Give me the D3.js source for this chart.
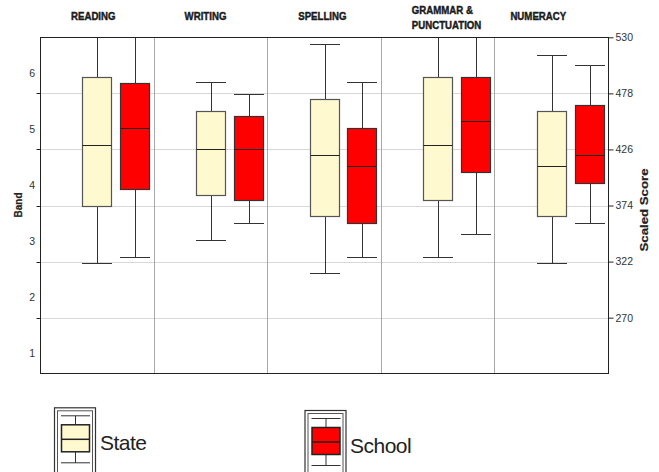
<!DOCTYPE html>
<html>
<head>
<meta charset="utf-8">
<script src="https://cdn.jsdelivr.net/npm/d3@7/dist/d3.min.js"></script>
<style>
  html, body { margin: 0; padding: 0; background: #ffffff; }
  svg { display: block; font-family: "Liberation Sans", Arial, sans-serif; }
</style>
</head>
<body>
<svg id="chart" width="659" height="472"></svg>
<script>
// ---------------- data ----------------
const categories = ["READING", "WRITING", "SPELLING", "GRAMMAR & PUNCTUATION", "NUMERACY"];
const seriesNames = ["State", "School"];

// State (scaled score); whiskers above 530 run off the top of the chart
const stateMin    = [321, 342, 311, 326.5, 321];
const stateQ1     = [374, 384, 364, 379, 364];
const stateMedian = [430, 426.5, 420.5, 430, 410.5];
const stateQ3     = [493, 462, 473, 493, 462];
const stateMax    = [545, 489, 524, 545, 514];

// School
const schoolMin    = [326.5, 358, 326.5, 348, 358];
const schoolQ1     = [389, 379.5, 358, 405, 395];
const schoolMedian = [446, 426.5, 410.5, 452, 420.5];
const schoolQ3     = [488, 457, 446, 493, 467];
const schoolMax    = [545, 477.5, 488.5, 545, 504];

// axes
const scoreTicks = [270, 322, 374, 426, 478, 530];
const bandLabels = ["1", "2", "3", "4", "5", "6"];
const bandLower  = [218.4, 270, 322, 374, 426, 478];

const seriesColors = { State: "#FFF9D0", School: "#FF0000" };
const seriesStroke = { State: "#555555", School: "#333333" };

// ---------------- layout ----------------
const svg = d3.select("#chart");
const L = 40, R = 608, T = 37.3, B = 373.3;

const x = d3.scaleBand().domain(categories).range([L, R]).padding(0);
const slot = d3.scaleBand().domain(["_", "State", "School"])
  .range([0, x.bandwidth()]).paddingInner(0.24).paddingOuter(0.12);
const y = d3.scaleLinear().domain([218.4, 530]).range([B, T]);

const px = v => Math.round(v) + 0.5;

// build records
const records = [];
categories.forEach((c, i) => {
  records.push({ cat: c, series: "State", min: stateMin[i], q1: stateQ1[i], med: stateMedian[i], q3: stateQ3[i], max: stateMax[i] });
  records.push({ cat: c, series: "School", min: schoolMin[i], q1: schoolQ1[i], med: schoolMedian[i], q3: schoolQ3[i], max: schoolMax[i] });
});

// clip
svg.append("defs").append("clipPath").attr("id", "plotClip")
  .append("rect").attr("x", L).attr("y", T).attr("width", R - L).attr("height", B - T);

// gridlines
svg.append("g").selectAll("line").data(scoreTicks.filter(t => t < 530)).join("line")
  .attr("x1", L).attr("x2", R)
  .attr("y1", d => px(y(d))).attr("y2", d => px(y(d)))
  .attr("stroke", "#d8d8d8").attr("stroke-width", 1);

// panel dividers
svg.append("g").selectAll("line").data(categories.slice(1)).join("line")
  .attr("x1", d => px(x(d))).attr("x2", d => px(x(d)))
  .attr("y1", T).attr("y2", B)
  .attr("stroke", "#a8a8a8").attr("stroke-width", 1);

// boxes
const plot = svg.append("g").attr("clip-path", "url(#plotClip)");
const g = plot.selectAll("g.box").data(records).join("g").attr("class", "box");

g.each(function(d) {
  const sel = d3.select(this);
  const x0 = Math.round(x(d.cat) + slot(d.series));
  const w = Math.round(slot.bandwidth());
  const xc = x0 + Math.round(w / 2) + 0.5;
  const stroke = "#333333";
  // whiskers
  sel.append("line").attr("x1", xc).attr("x2", xc)
    .attr("y1", px(y(d.max))).attr("y2", px(y(d.q3))).attr("stroke", stroke);
  sel.append("line").attr("x1", xc).attr("x2", xc)
    .attr("y1", px(y(d.q1))).attr("y2", px(y(d.min))).attr("stroke", stroke);
  // caps
  [d.max, d.min].forEach(v => {
    sel.append("line").attr("x1", x0).attr("x2", x0 + w + 1)
      .attr("y1", px(y(v))).attr("y2", px(y(v))).attr("stroke", stroke).attr("stroke-width", 1.2);
  });
  // box
  const yt = px(y(d.q3)), yb = px(y(d.q1));
  sel.append("rect").attr("x", x0 + 0.5).attr("y", yt).attr("width", w).attr("height", yb - yt)
    .attr("fill", seriesColors[d.series]).attr("stroke", seriesStroke[d.series]).attr("stroke-width", 1.2);
  // median
  sel.append("line").attr("x1", x0 + 0.5).attr("x2", x0 + w + 0.5)
    .attr("y1", px(y(d.med))).attr("y2", px(y(d.med))).attr("stroke", "#222222").attr("stroke-width", 1.2);
});

// frame
svg.append("rect").attr("x", px(L)).attr("y", px(T)).attr("width", Math.round(R - L)).attr("height", Math.round(B - T))
  .attr("fill", "none").attr("stroke", "#222222").attr("stroke-width", 1);

// right axis
const rightAxis = d3.axisRight(y).tickValues(scoreTicks).tickSize(5).tickPadding(2).tickSizeOuter(0);
const ra = svg.append("g").attr("transform", `translate(${px(R)},0)`).call(rightAxis);
ra.select(".domain").remove();
ra.selectAll(".tick line").attr("stroke", "#222222");
ra.selectAll(".tick text").attr("fill", "#333333").style("font-size", "10.5px")
  .style("font-family", "'Liberation Sans', Arial, sans-serif");

// left axis ticks (band boundaries)
svg.append("g").selectAll("line").data(scoreTicks.filter(t => t < 530)).join("line")
  .attr("x1", px(L) - 4).attr("x2", px(L))
  .attr("y1", d => px(y(d))).attr("y2", d => px(y(d)))
  .attr("stroke", "#222222");

// left band labels
svg.append("g").selectAll("text").data(bandLabels).join("text")
  .attr("x", 35).attr("y", (d, i) => y(bandLower[i]) - 20)
  .attr("dy", "0.35em").attr("text-anchor", "end")
  .attr("fill", "#333333").style("font-size", "10.5px")
  .text(d => d);

// axis titles
svg.append("text").attr("transform", "translate(21.5,205) rotate(-90)")
  .attr("text-anchor", "middle").style("font-size", "10px").style("font-weight", "bold")
  .attr("fill", "#222222").attr("stroke", "#222222").attr("stroke-width", 0.2)
  .attr("textLength", 25).attr("lengthAdjust", "spacingAndGlyphs")
  .text("Band");
svg.append("text").attr("transform", "translate(647.5,210) rotate(-90)")
  .attr("text-anchor", "middle").style("font-size", "11px").style("font-weight", "bold")
  .attr("fill", "#222222").attr("stroke", "#222222").attr("stroke-width", 0.2)
  .attr("textLength", 83).attr("lengthAdjust", "spacingAndGlyphs")
  .text("Scaled Score");

// category titles
const titleDx = [31, 31, 31, 31, 16];
categories.forEach((c, i) => {
  const lines = c.includes("&") ? [c.slice(0, c.indexOf("&") + 1), c.slice(c.indexOf("&") + 1).trim()] : [c];
  const baseY = lines.length > 1 ? 14 : 20;
  const tg = svg.append("g").attr("transform", `translate(${x(c) + titleDx[i]},${baseY}) scale(0.84,1)`);
  lines.forEach((ln, j) => {
    tg.append("text").attr("x", 0).attr("y", j * 15.3)
      .style("font-size", "11.5px").style("font-weight", "bold").attr("fill", "#1a1a1a")
      .attr("stroke", "#1a1a1a").attr("stroke-width", 0.45)
      .text(ln);
  });
});

// legend
const legendPos = { State: { x: 54, y: 407.3, tx: 100, ty: 450 }, School: { x: 304.5, y: 410, tx: 350, ty: 453 } };
seriesNames.forEach(s => {
  const p = legendPos[s];
  const lg = svg.append("g").attr("transform", `translate(${p.x},${p.y})`);
  lg.append("rect").attr("x", 0.5).attr("y", 0.5).attr("width", 41).attr("height", 80)
    .attr("fill", "none").attr("stroke", "#333333").attr("stroke-width", 1.2);
  lg.append("rect").attr("x", 3.5).attr("y", 3.5).attr("width", 35).attr("height", 80)
    .attr("fill", "none").attr("stroke", "#555555");
  const cx = 21.5;
  lg.append("line").attr("x1", 7).attr("x2", 36).attr("y1", 8.5).attr("y2", 8.5).attr("stroke", "#333");
  lg.append("line").attr("x1", 7).attr("x2", 36).attr("y1", 55.5).attr("y2", 55.5).attr("stroke", "#333");
  lg.append("line").attr("x1", cx).attr("x2", cx).attr("y1", 8.5).attr("y2", 17).attr("stroke", "#333");
  lg.append("line").attr("x1", cx).attr("x2", cx).attr("y1", 44).attr("y2", 55.5).attr("stroke", "#333");
  lg.append("rect").attr("x", 7.5).attr("y", 17.5).attr("width", 28).attr("height", 27)
    .attr("fill", seriesColors[s]).attr("stroke", "#222").attr("stroke-width", 1.5);
  lg.append("line").attr("x1", 7.5).attr("x2", 35.5).attr("y1", 32).attr("y2", 32)
    .attr("stroke", "#222").attr("stroke-width", 1.5);
  svg.append("text").attr("x", p.tx).attr("y", p.ty)
    .style("font-size", "21px").attr("fill", "#222222").attr("letter-spacing", "-0.5px")
    .text(s);
});
</script>
</body>
</html>
